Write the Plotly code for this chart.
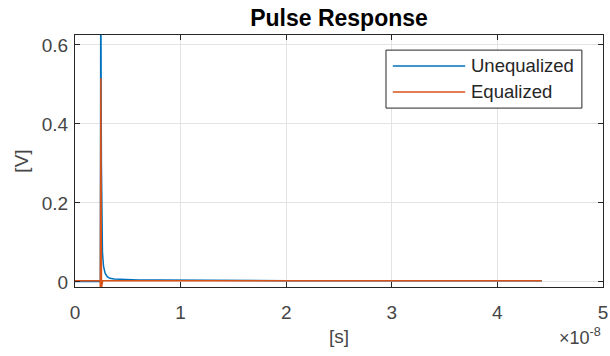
import plotly.graph_objs as go

# pulse response data (time in seconds, amplitude in volts)
t_uneq = [0, 0.2400e-8, 0.2420e-8, 0.2440e-8, 0.2470e-8, 0.2500e-8, 0.2540e-8,
          0.2600e-8, 0.2700e-8, 0.2850e-8, 0.3050e-8, 0.3300e-8, 0.3700e-8,
          0.4500e-8, 0.6000e-8, 0.8000e-8, 1.0000e-8, 1.5000e-8, 2.0000e-8,
          3.0000e-8, 4.4200e-8]
v_uneq = [0.001, 0.001, 0.30, 0.80, 0.55, 0.30, 0.15, 0.075, 0.040, 0.022,
          0.013, 0.009, 0.007, 0.006, 0.005, 0.0045, 0.004, 0.0035, 0.003,
          0.003, 0.003]

t_eq = [0, 0.2380e-8, 0.2400e-8, 0.2420e-8, 0.2450e-8, 0.2480e-8, 0.2510e-8,
        0.2560e-8, 0.2620e-8, 0.2800e-8, 4.4200e-8]
v_eq = [0.003, 0.003, -0.015, 0.20, 0.516, 0.15, -0.015, 0.0, 0.003, 0.003,
        0.003]

x_ticks = [0, 1e-8, 2e-8, 3e-8, 4e-8, 5e-8]
x_labels = ["0", "1", "2", "3", "4", "5"]
y_ticks = [0, 0.2, 0.4, 0.6]
y_labels = ["0", "0.2", "0.4", "0.6"]

names = ["Unequalized", "Equalized"]
colors = ["#0072BD", "#D95319"]

font = "Liberation Sans, Arial, sans-serif"
axcol = "#262626"
txtcol = "#454545"

fig = go.Figure()
fig.add_trace(go.Scatter(x=t_uneq, y=v_uneq, mode="lines", name=names[0],
                         line=dict(color=colors[0], width=1.5)))
fig.add_trace(go.Scatter(x=t_eq, y=v_eq, mode="lines", name=names[1],
                         line=dict(color=colors[1], width=1.5)))

axis_common = dict(showline=True, linecolor=axcol, linewidth=1, mirror="allticks",
                   ticks="inside", ticklen=5, tickcolor=axcol,
                   showgrid=True, gridcolor="#e3e3e3", gridwidth=1,
                   zeroline=False, automargin=False,
                   tickfont=dict(family=font, size=19, color=txtcol))

fig.update_layout(
    width=610, height=356,
    margin=dict(l=75, r=7, t=35, b=69),
    paper_bgcolor="white", plot_bgcolor="white",
    title=dict(text="<b>Pulse Response</b>", xref="paper", x=0.5, xanchor="center",
               y=0.949, yanchor="middle",
               font=dict(family=font, size=23, color="black")),
    xaxis=dict(range=[0, 5.0001e-8], tickvals=x_ticks, ticktext=x_labels,
               ticklabelstandoff=8,
               title=dict(text="[s]", font=dict(family=font, size=19, color=txtcol),
                          standoff=7),
               **axis_common),
    yaxis=dict(range=[-0.013, 0.625], tickvals=y_ticks, ticktext=y_labels,
               ticklabelstandoff=2,
               title=dict(text="[V]", font=dict(family=font, size=19, color=txtcol),
                          standoff=8),
               **axis_common),
    showlegend=False,
)

# matlab style legend box (long line samples)
fig.add_shape(type="rect", xref="paper", yref="paper", x0=0.589, x1=0.960,
              y0=0.710, y1=0.940, line=dict(color=axcol, width=1),
              fillcolor="white", layer="above")
for i, (name, col) in enumerate(zip(names, colors)):
    yy = 0.877 - i * 0.103
    fig.add_shape(type="line", xref="paper", yref="paper", x0=0.602, x1=0.739,
                  y0=yy, y1=yy, line=dict(color=col, width=1.5), layer="above")
    fig.add_annotation(text=name, xref="paper", yref="paper", x=0.746, y=yy,
                       xanchor="left", yanchor="middle", showarrow=False,
                       font=dict(family=font, size=18.5, color=axcol))

fig.add_annotation(text="×10<sup>-8</sup>", xref="paper", yref="paper",
                   x=1.0, y=-0.198, xanchor="right", yanchor="middle",
                   showarrow=False, font=dict(family=font, size=18, color=txtcol))

fig.write_html("out.html", config={"displayModeBar": False},
               post_script="document.body.style.margin='0';")
